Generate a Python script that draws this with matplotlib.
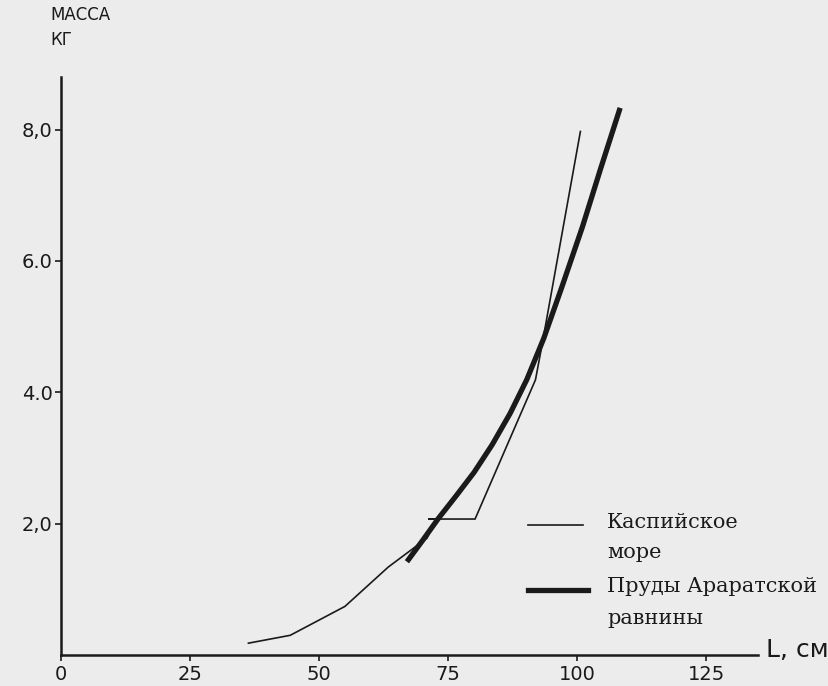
"""Масса рыбы от длины: Каспийское море и пруды Араратской равнины."""

import matplotlib

matplotlib.use("Agg")
import matplotlib.pyplot as plt
from matplotlib.lines import Line2D

# Каспийское море (тонкая линия), L в см, масса в кг
caspian_len = [36.3, 44.4, 55.0, 63.4, 70.9, 72.6, 71.1, 80.2, 91.9, 93.0, 100.6]
caspian_mass = [0.18, 0.30, 0.74, 1.34, 1.78, 2.07, 2.07, 2.07, 4.19, 4.65, 7.97]

# Пруды Араратской равнины (толстая линия)
ponds_len = [67.0, 70.0, 73.1, 76.5, 80.0, 83.5, 87.0, 90.2, 93.5, 97.0, 101.0, 104.5, 108.3]
ponds_mass = [1.42, 1.74, 2.08, 2.42, 2.78, 3.20, 3.68, 4.19, 4.82, 5.60, 6.52, 7.40, 8.33]

x_ticks = [0, 25, 50, 75, 100, 125]
y_ticks = [2.0, 4.0, 6.0, 8.0]
y_tick_labels = ["2,0", "4.0", "6.0", "8,0"]

W, H = 829, 686
ink = "#1a1a1a"
paper = "#ececec"


def fx(px):
    return px / W


def fy(py):
    return 1 - py / H


fig = plt.figure(figsize=(W / 100, H / 100), dpi=100, facecolor=paper)
ax = fig.add_axes([fx(61), fy(655), fx(758) - fx(61), fy(77) - fy(655)])
ax.set_facecolor(paper)

ax.plot(caspian_len, caspian_mass, color=ink, lw=1.2, solid_joinstyle="miter")
ax.plot(ponds_len, ponds_mass, color=ink, lw=3.8, solid_capstyle="butt",
        solid_joinstyle="round")

ax.set_xlim(0, 135)
ax.set_ylim(0, 8.8)
for side in ("top", "right"):
    ax.spines[side].set_visible(False)
for side in ("left", "bottom"):
    ax.spines[side].set_linewidth(1.8)
    ax.spines[side].set_color(ink)

ax.set_xticks(x_ticks)
ax.set_xticklabels([str(t) for t in x_ticks])
ax.set_yticks(y_ticks)
ax.set_yticklabels(y_tick_labels)
ax.tick_params(axis="both", colors=ink, width=1.2, length=4, labelsize=14,
               direction="out")
ax.tick_params(axis="x", pad=3)
ax.tick_params(axis="y", pad=2)

fig.text(fx(50), fy(15), "МАССА", fontsize=12, color=ink, va="center", ha="left")
fig.text(fx(50), fy(40), "КГ", fontsize=12, color=ink, va="center", ha="left")
fig.text(fx(766), fy(650), "L, см", fontsize=18, color=ink, va="center", ha="left")

# легенда
fig.add_artist(Line2D([fx(528), fx(583)], [fy(525), fy(525)], color=ink, lw=1.2))
fig.add_artist(Line2D([fx(528), fx(588)], [fy(590), fy(590)], color=ink, lw=3.8))
legend_font = dict(fontsize=15, color=ink, va="center", ha="left",
                   family="DejaVu Serif")
fig.text(fx(607), fy(522), "Каспийское", **legend_font)
fig.text(fx(607), fy(553), "море", **legend_font)
fig.text(fx(607), fy(587), "Пруды Араратской", **legend_font)
fig.text(fx(607), fy(618), "равнины", **legend_font)

fig.savefig("out.png", dpi=100, facecolor=paper)
plt.close(fig)
